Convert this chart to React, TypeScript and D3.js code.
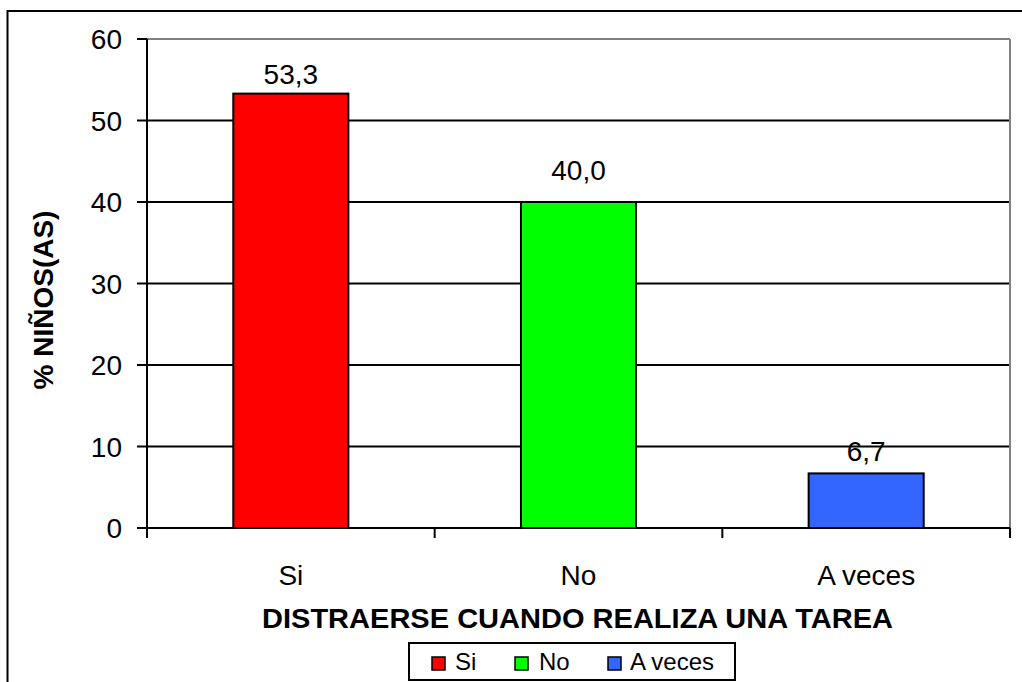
import React from "react";
import * as d3 from "d3";

const categories = ["Si", "No", "A veces"];
const values = [53.3, 40.0, 6.7];
const valueLabels = ["53,3", "40,0", "6,7"];
const colors = ["#FF0000", "#00FF00", "#3366FF"];
const yTicks = [0, 10, 20, 30, 40, 50, 60];
const yTitle = "% NIÑOS(AS)";
const xTitle = "DISTRAERSE CUANDO REALIZA UNA TAREA";

const labelDy = [10, 22, 12];

export default function App() {
  const W = 1022, H = 682;
  const left = 147, right = 1010, top = 39, bottom = 528;
  const x = d3.scaleBand().domain(categories).range([left, right]).paddingInner(0).paddingOuter(0);
  const y = d3.scaleLinear().domain([0, 60]).range([bottom, top]);
  const bw = x.bandwidth() * 0.4;
  const font = "'Liberation Sans', Arial, sans-serif";
  const boundaries = [left, ...categories.map((c) => (x(c) as number) + x.bandwidth())];

  return (
    <svg width={W} height={H} style={{ position: "absolute", left: 0, top: 0 }} fontFamily={font}>
      <rect x={0} y={0} width={W} height={H} fill="#fff" />
      {/* outer border */}
      <line x1={7.5} y1={11} x2={1030} y2={11} stroke="#000" strokeWidth={2} />
      <line x1={7.5} y1={10} x2={7.5} y2={690} stroke="#000" strokeWidth={2} />
      {/* grid */}
      {yTicks.map((t) => (
        <line key={t} x1={left} x2={right} y1={y(t)} y2={y(t)}
          stroke={t === 60 ? "#808080" : "#000"} strokeWidth={2} />
      ))}
      <line x1={right} x2={right} y1={top} y2={bottom} stroke="#808080" strokeWidth={2} />
      {/* bars */}
      {categories.map((c, i) => {
        const cx = (x(c) as number) + x.bandwidth() / 2;
        return (
          <g key={c}>
            <rect x={cx - bw / 2} y={y(values[i])} width={bw} height={bottom - y(values[i])}
              fill={colors[i]} stroke="#000" strokeWidth={2} />
            <text x={cx} y={y(values[i]) - labelDy[i]} textAnchor="middle" fontSize={28} fill="#000">{valueLabels[i]}</text>
            <text x={cx} y={585} textAnchor="middle" fontSize={28} fill="#000">{c}</text>
          </g>
        );
      })}
      {/* axes */}
      <line x1={left} x2={left} y1={top} y2={bottom + 10} stroke="#000" strokeWidth={2} />
      <line x1={left - 10} x2={right} y1={bottom} y2={bottom} stroke="#000" strokeWidth={2} />
      {yTicks.map((t) => (
        <g key={"t" + t}>
          <line x1={left - 10} x2={left} y1={y(t)} y2={y(t)} stroke="#000" strokeWidth={2} />
          <text x={122} y={y(t) + 10} textAnchor="end" fontSize={28} fill="#000">{t}</text>
        </g>
      ))}
      {boundaries.map((b, i) => (
        <line key={"b" + i} x1={b} x2={b} y1={bottom} y2={bottom + 10} stroke="#000" strokeWidth={2} />
      ))}
      {/* titles */}
      <text x={262} y={628} textLength={631} lengthAdjust="spacingAndGlyphs" fontSize={28} fontWeight="bold" fill="#000">{xTitle}</text>
      <text transform={`translate(53,300) rotate(-90)`} textAnchor="middle" fontSize={28} fontWeight="bold" fill="#000">{yTitle}</text>
      {/* legend */}
      <rect x={409} y={643} width={326} height={37} fill="#fff" stroke="#000" strokeWidth={2} />
      {[{ sx: 432, tx: 455 }, { sx: 515, tx: 539 }, { sx: 608, tx: 630 }].map((p, i) => (
        <g key={"l" + i}>
          <rect x={p.sx} y={657} width={13} height={13} fill={colors[i]} stroke="#000" strokeWidth={1.5} />
          <text x={p.tx} y={670} fontSize={24} fill="#000">{categories[i]}</text>
        </g>
      ))}
    </svg>
  );
}
